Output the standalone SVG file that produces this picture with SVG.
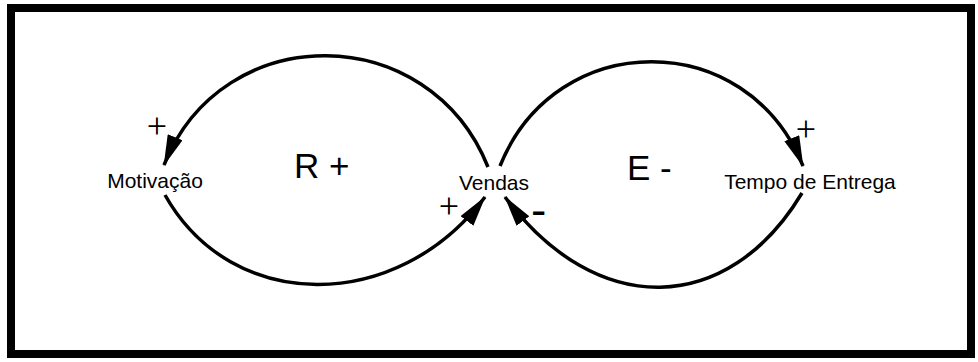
<svg xmlns="http://www.w3.org/2000/svg" width="978" height="362" viewBox="0 0 978 362">
  <style>
    .node { font-family: "Liberation Sans", Arial, sans-serif; font-size: 21px; fill: #000; text-anchor: middle; }
    .loop { font-family: "Liberation Sans", Arial, sans-serif; font-size: 35px; fill: #000; }
    .pol { font-family: "Liberation Serif", "Times New Roman", serif; font-size: 36px; fill: #000; text-anchor: middle; }
    .neg { font-family: "Liberation Sans", Arial, sans-serif; font-size: 46px; fill: #000; }
    .link { fill: none; stroke: #000; stroke-width: 3.5; }
  </style>
  <defs>
    <marker id="arrow" viewBox="0 0 31 16" refX="30" refY="8" markerWidth="31" markerHeight="16" markerUnits="userSpaceOnUse" orient="auto">
      <path d="M0,0 L31,8 L0,16 z" fill="#000"/>
    </marker>
  </defs>
  <rect x="0" y="0" width="978" height="362" fill="#fff"/>
  <rect id="frame" x="11" y="8" width="960" height="346" fill="none" stroke="#000" stroke-width="8"/>

  <g id="connectors">
    <path class="link" d="M488,167 C429,20 223,18 164,165" marker-end="url(#arrow)"/>
    <path class="link" d="M165,195 C232,314 397,314 485,197" marker-end="url(#arrow)"/>
    <path class="link" d="M500,166 C556,27 747,27 803,166" marker-end="url(#arrow)"/>
    <path class="link" d="M802,193 C728,316 597,320 505,197" marker-end="url(#arrow)"/>
    <text class="pol" x="157" y="137.5">+</text>
    <text class="pol" x="449" y="217.5">+</text>
    <text class="pol" x="806" y="140.5">+</text>
    <text class="neg" x="531" y="226">-</text>
  </g>

  <g id="loop-R">
    <text class="loop" x="294" y="178">R +</text>
  </g>
  <g id="loop-E">
    <text class="loop" x="627" y="180">E -</text>
  </g>

  <g id="node-motivacao">
    <text class="node" x="155" y="188">Motivação</text>
  </g>
  <g id="node-vendas">
    <text class="node" x="494" y="190">Vendas</text>
  </g>
  <g id="node-tempo">
    <text class="node" x="810" y="189">Tempo de Entrega</text>
  </g>
</svg>
